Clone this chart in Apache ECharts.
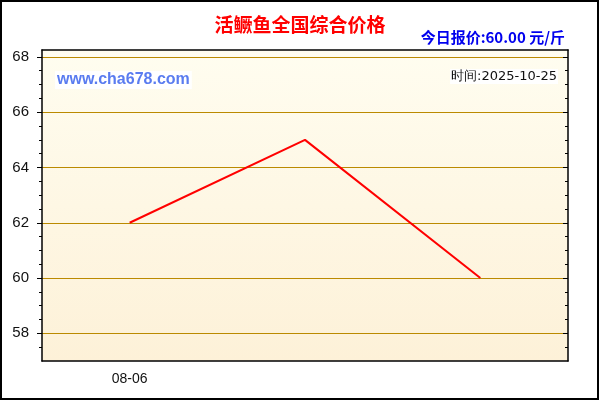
<!DOCTYPE html>
<html>
<head>
<meta charset="utf-8">
<script src="https://cdn.jsdelivr.net/npm/echarts@6/dist/echarts.min.js"></script>
<style>
  html, body { margin: 0; padding: 0; background: #fff; }
  #main { width: 600px; height: 400px; }
</style>
</head>
<body>
<div id="main"></div>
<script>
var categories = ['08-06', '09-15', '10-25'];
var prices = [62, 65, 60];
var yTicks = [58, 60, 62, 64, 66, 68];
var yMinorTicks = [57.5, 58.5, 59, 59.5, 60.5, 61, 61.5, 62.5, 63, 63.5, 64.5, 65, 65.5, 66.5, 67, 67.5];

var chart = echarts.init(document.getElementById('main'));

function yAxisPart(pos, ticks, len, inside, main) {
	return {
		type: 'value',
		position: pos,
		min: 57,
		max: 68.25,
		axisLine: { show: main, onZero: false, lineStyle: { color: '#000', width: 1.5 } },
		axisTick: { show: true, inside: inside, length: len, customValues: ticks, lineStyle: { color: '#000', width: 1 } },
		axisLabel: {
			show: main && pos === 'left',
			customValues: ticks,
			color: '#111',
			fontSize: 15,
			fontFamily: 'Liberation Sans',
			margin: 13
		},
		splitLine: { show: main && pos === 'left', lineStyle: { color: '#bb8a00', width: 1 } }
	};
}

var option = {
	animation: false,
	backgroundColor: '#fff',
	title: {
		text: '活鳜鱼全国综合价格',
		left: 'center',
		top: 10,
		textStyle: { color: '#ff0000', fontSize: 19, fontWeight: 'bold', fontFamily: 'Noto Sans CJK SC' }
	},
	grid: {
		left: 42,
		right: 32,
		top: 50,
		bottom: 39,
		show: true,
		borderWidth: 0,
		backgroundColor: new echarts.graphic.LinearGradient(0, 0, 0, 1, [
			{ offset: 0, color: '#fffdf0' },
			{ offset: 1, color: '#fdf1d8' }
		])
	},
	xAxis: [{
		type: 'category',
		position: 'bottom',
		data: categories,
		boundaryGap: true,
		axisLine: { lineStyle: { color: '#000', width: 1.5 } },
		axisTick: { alignWithLabel: true, interval: 0, length: 5, lineStyle: { color: '#000' } },
		axisLabel: {
			interval: function (index) { return index === 0; },
			color: '#111',
			fontSize: 14,
			fontFamily: 'Liberation Sans',
			margin: 11
		}
	}, {
		type: 'category',
		position: 'top',
		data: categories,
		boundaryGap: true,
		axisLine: { lineStyle: { color: '#000', width: 1.5 } },
		axisTick: { alignWithLabel: true, interval: 0, inside: true, length: 5, lineStyle: { color: '#000' } },
		axisLabel: { show: false }
	}],
	yAxis: [
		yAxisPart('left', yTicks, 5, false, true),
		yAxisPart('left', yMinorTicks, 3, false, false),
		yAxisPart('right', yTicks, 5, true, true),
		yAxisPart('right', yMinorTicks, 3, true, false)
	],
	series: [{
		type: 'line',
		data: prices,
		xAxisIndex: 0,
		yAxisIndex: 0,
		symbol: 'none',
		lineStyle: { color: '#ff0000', width: 2 }
	}],
	graphic: [{
		type: 'rect',
		shape: { x: 1, y: 1, width: 597, height: 398 },
		style: { fill: 'none', stroke: '#000', lineWidth: 2 },
		z: 100
	}, {
		type: 'text',
		right: 35,
		top: 30,
		style: {
			text: '今日报价:60.00 元/斤',
			fill: '#0000ee',
			font: 'bold 15px "Noto Sans CJK SC"'
		},
		z: 100
	}, {
		type: 'text',
		left: 55,
		top: 71,
		style: {
			text: 'www.cha678.com',
			fill: '#5a7cf0',
			font: 'bold 16px "Liberation Sans"',
			backgroundColor: '#fff',
			padding: [1, 2]
		},
		z: 100
	}, {
		type: 'text',
		right: 42,
		top: 69,
		style: {
			text: '时间:2025-10-25',
			fill: '#111',
			font: '13px "DejaVu Sans"',
			backgroundColor: '#fff',
			padding: [1, 1]
		},
		z: 100
	}]
};

chart.setOption(option);
</script>
</body>
</html>
